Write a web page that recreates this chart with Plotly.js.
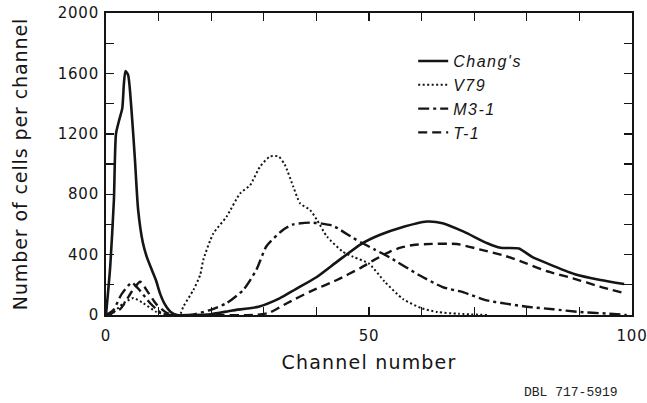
<!DOCTYPE html>
<html>
<head>
<meta charset="utf-8">
<script src="https://cdn.plot.ly/plotly-3.0.1.min.js"></script>
<style>
  html, body { margin: 0; padding: 0; background: #fff; }
  #chart { width: 647px; height: 403px; }
  .xtitle { letter-spacing: 1.2px; }
  .ytitle { letter-spacing: 0.9px; }
  .xtick text, .ytick text { letter-spacing: 0.8px; }
  .legendtext { letter-spacing: 1.5px; }
</style>
</head>
<body>
<div id="chart"></div>
<script>
// Channel number (x) and number of cells per channel (y)
const changX = [0, 0.8, 1.5, 1.9, 2.5, 3.1, 3.4, 3.7, 4.2, 4.8, 5.5, 6.1, 7.0, 7.8, 8.7, 9.5, 10.3, 11.2, 12.3, 13.5, 16, 20, 24, 29, 33, 36, 40, 44, 48.5, 52, 56, 61, 64, 68, 72.5, 75, 78.5, 81, 84, 89, 94, 98.5];
const changY = [0, 320, 760, 1200, 1290, 1370, 1530, 1615, 1590, 1380, 1030, 700, 480, 380, 300, 230, 140, 70, 20, 0, 0, 5, 30, 55, 110, 170, 250, 355, 470, 530, 578, 619, 608, 552, 475, 445, 440, 385, 340, 272, 232, 205];

const v79X = [0, 0.8, 3.3, 5.2, 7.1, 9.6, 12, 14, 14.7, 16.6, 17.9, 18.5, 20.4, 22.9, 25.5, 27.4, 29.3, 31.2, 32.8, 34, 35.6, 36.9, 38.8, 40.1, 42, 45, 47, 50, 53, 56.5, 60, 63, 67, 72.5];
const v79Y = [0, 0, 78, 112, 78, 20, 2, 0, 55, 165, 265, 365, 540, 650, 805, 860, 983, 1050, 1050, 995, 850, 740, 695, 630, 520, 420, 385, 340, 220, 105, 45, 20, 8, 0];

const m31X = [0, 1.4, 3, 4.9, 6.5, 8.4, 10.6, 12, 16, 19.8, 22.9, 26.1, 28.6, 30.5, 33.7, 35.6, 38.8, 41, 43.2, 47, 48.5, 51, 54, 59.5, 64, 68, 72, 76, 80, 85, 90, 95, 99];
const m31Y = [0, 33, 140, 214, 160, 78, 10, 0, 0, 33, 78, 166, 300, 455, 565, 600, 612, 605, 590, 510, 480, 435, 380, 265, 185, 150, 100, 75, 55, 38, 20, 10, 0];

const t1X = [0, 2.7, 5, 6.5, 8, 9.6, 11.5, 13, 20, 28, 31, 34.4, 38.8, 43.9, 48.3, 51, 54, 56, 58.4, 62, 66.7, 71, 76, 80, 83.8, 88.8, 93.9, 98.7];
const t1Y = [0, 40, 160, 220, 150, 70, 15, 0, 0, 0, 15, 78, 155, 232, 310, 365, 420, 446, 464, 471, 470, 435, 390, 340, 290, 243, 188, 143];

const seriesNames = ["Chang's", "V79", "M3-1", "T-1"];

const xTickVals = [0, 10, 20, 30, 40, 50, 60, 70, 80, 90, 100];
const xTickText = ["0", "", "", "", "", "50", "", "", "", "", "100"];
const yTickVals = [0, 200, 400, 600, 800, 1000, 1200, 1400, 1600, 1800, 2000];
const yTickText = ["0", "", "400", "", "800", "", "1200", "", "1600", "", "2000"];

const ink = '#151515';
const traces = [
  {x: changX, y: changY, name: seriesNames[0], line: {color: ink, width: 2.6, dash: 'solid', shape: 'spline', smoothing: 0.6}},
  {x: v79X, y: v79Y, name: seriesNames[1], line: {color: ink, width: 2, dash: '2px,2.5px', shape: 'spline', smoothing: 0.6}},
  {x: m31X, y: m31Y, name: seriesNames[2], line: {color: ink, width: 2.4, dash: '11px,4px,3px,4px', shape: 'spline', smoothing: 0.6}},
  {x: t1X, y: t1Y, name: seriesNames[3], line: {color: ink, width: 2.4, dash: '9px,5px', shape: 'spline', smoothing: 0.6}}
].map(t => Object.assign({type: 'scatter', mode: 'lines'}, t));

const axisCommon = {
  showline: true, linecolor: ink, linewidth: 2, mirror: 'ticks',
  ticks: 'inside', ticklen: 8, tickwidth: 1.4, tickcolor: ink,
  showgrid: false, zeroline: false, fixedrange: true,
  ticklabeloverflow: 'allow',
  tickfont: {family: 'DejaVu Sans', size: 15, color: ink}
};

const layout = {
  width: 647, height: 403,
  margin: {l: 106, r: 15, t: 13, b: 88},
  paper_bgcolor: '#fff', plot_bgcolor: '#fff',
  font: {family: 'DejaVu Sans', color: ink},
  xaxis: Object.assign({}, axisCommon, {
    range: [0, 100], tickmode: 'array', tickvals: xTickVals, ticktext: xTickText,
    ticklabelstandoff: 6,
    title: {text: 'Channel number', font: {family: 'DejaVu Sans', size: 19, color: ink}, standoff: 12}
  }),
  yaxis: Object.assign({}, axisCommon, {
    range: [0, 2000], tickmode: 'array', tickvals: yTickVals, ticktext: yTickText,
    ticklabelstandoff: 2,
    title: {text: 'Number of cells per channel', font: {family: 'DejaVu Sans', size: 19, color: ink}, standoff: 25}
  }),
  showlegend: true,
  legend: {
    x: 0.584, y: 0.897, xanchor: 'left', yanchor: 'top',
    bgcolor: 'rgba(0,0,0,0)', borderwidth: 0,
    font: {family: 'Liberation Sans', size: 16, style: 'italic', color: ink},
    tracegroupgap: 0
  },
  annotations: [{
    text: 'DBL 717-5919', xref: 'paper', yref: 'paper', x: 0.884, y: -0.258,
    xanchor: 'center', yanchor: 'middle', showarrow: false,
    font: {family: 'Liberation Mono', size: 13, color: '#222'}
  }]
};

Plotly.newPlot('chart', traces, layout, {staticPlot: true, displayModeBar: false});
</script>
</body>
</html>
